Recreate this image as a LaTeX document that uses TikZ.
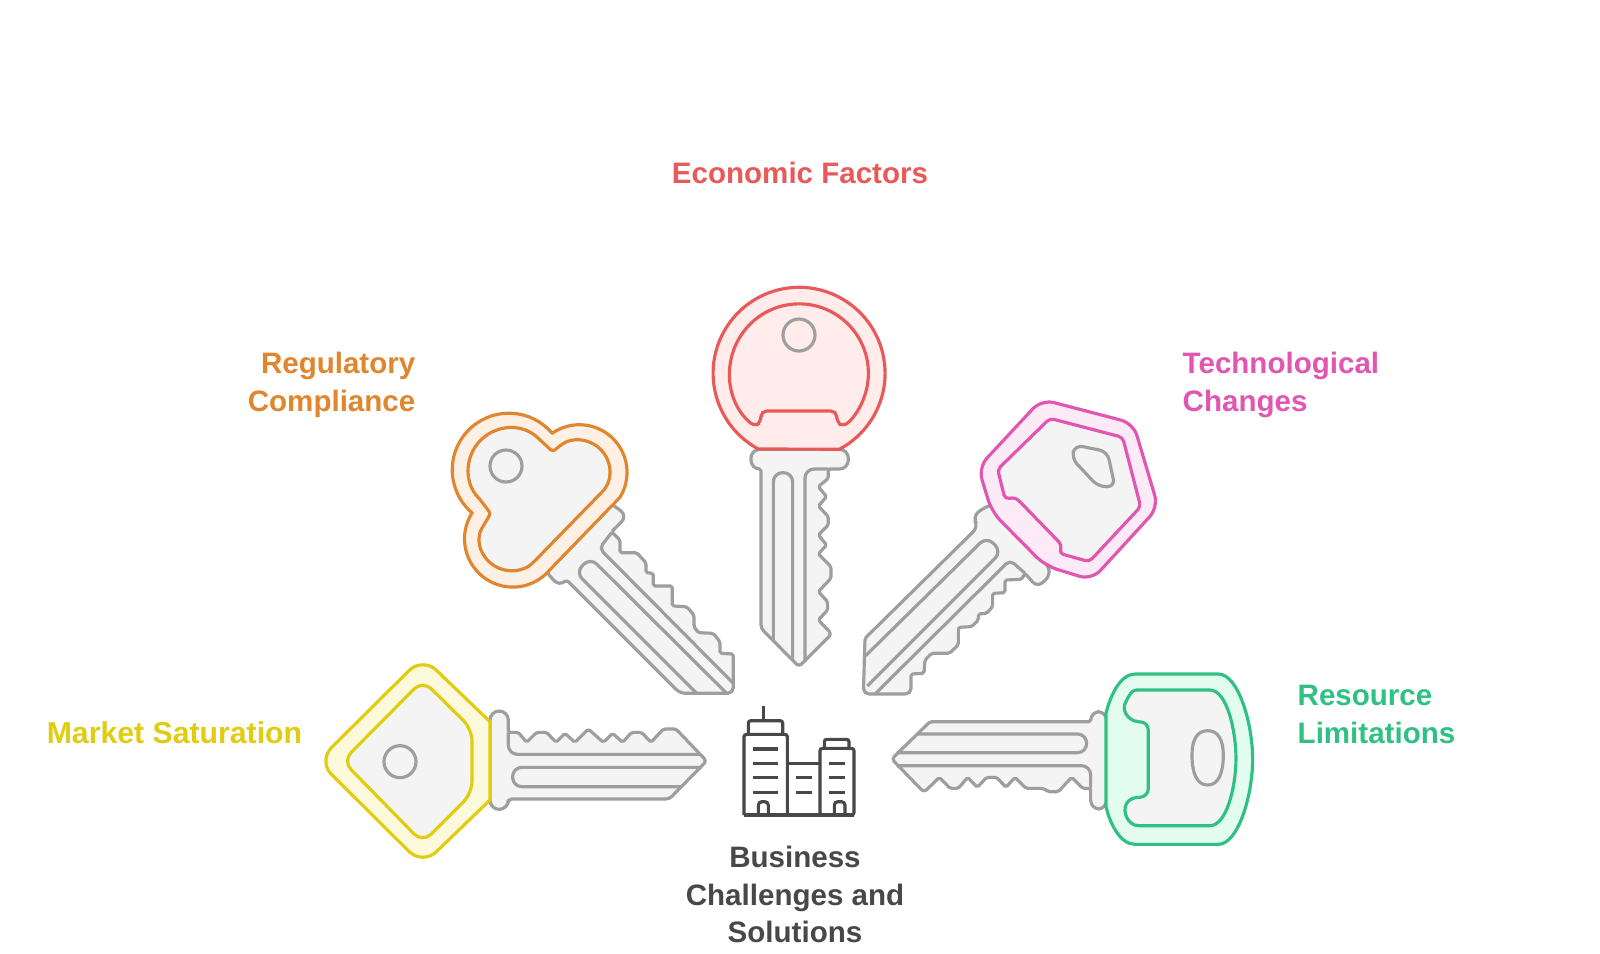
\documentclass[tikz,border=0pt]{standalone}
\usepackage{fontspec}
\setmainfont{Liberation Sans}
\definecolor{keygray}{HTML}{9E9E9E}
\definecolor{keyfill}{HTML}{F4F4F4}
\definecolor{inkdark}{HTML}{484848}
\definecolor{ecoline}{HTML}{E85A5A}
\definecolor{ecofill}{HTML}{FFECEB}
\definecolor{regline}{HTML}{E0862E}
\definecolor{regfill}{HTML}{FEF0E4}
\definecolor{tecline}{HTML}{E056B0}
\definecolor{tecfill}{HTML}{FDEAF7}
\definecolor{mktline}{HTML}{E0CC10}
\definecolor{mktfill}{HTML}{FDF9DC}
\definecolor{resline}{HTML}{2FC184}
\definecolor{resfill}{HTML}{E3FCF0}
\tikzset{
  blade/.style={draw=keygray,fill=keyfill,line width=.9pt,line join=round,rounded corners=.5pt},
  groove/.style={draw=keygray,line width=.9pt,rounded corners=2.6pt},
  hole/.style={draw=keygray,line width=.9pt},
  label/.style={font=\bfseries\fontsize{8.4}{10.7}\selectfont,inner sep=0pt},
  icon/.style={draw=inkdark,line width=.9pt,rounded corners=.7pt},
}
\begin{document}
\begin{tikzpicture}[x=0.01cm,y=-0.01cm]
\useasboundingbox (0,0) rectangle (1600,953);
\fill[white] (0,0) rectangle (1600,953);
\begin{scope}[shift={(690,270)},scale=0.3333]
\path[blade] (300,538) [rounded corners=2.5pt] -- (183,538) -- (183,597) [rounded corners=.5pt] -- (213,597) [rounded corners=1pt] -- (213,1075) -- (327,1190) -- (425,1092) [rounded corners=.5pt] -- (385,1050) -- (413,1020) -- (413,995) -- (385,965) -- (423,925) -- (423,890) -- (385,852) -- (410,825) -- (385,795) -- (415,765) -- (415,740) -- (385,708) -- (410,680) -- (385,650) -- (415,625) -- (415,597) [rounded corners=2.5pt] -- (475,597) -- (475,538) -- cycle;
\draw[groove] (250,1110) -- (250,608) -- (308,608) -- (308,1170);
\draw[groove] (345,1175) -- (345,597) -- (415,597);
\filldraw[draw=ecoline,fill=ecofill,line width=.9pt] (205,537) arc[start angle=118.3,end angle=422,radius=258] -- cycle;
\draw[draw=ecoline,line width=.9pt,rounded corners=1.6pt] (195,470) arc[start angle=129.5,end angle=410.7,radius=208] -- (440,455) -- (440,423) -- (213,423) -- (213,455) -- cycle;
\draw[hole] (327,195) circle[radius=48];
\end{scope}
\begin{scope}[shift={(440,400)},scale=0.3333]
\path[blade] (480,300) [rounded corners=2pt] -- (530,320) -- (560,350) [rounded corners=.5pt] -- (515,395) -- (540,420) -- (540,458) -- (590,458) -- (618,488) -- (618,518) -- (640,520) -- (640,558) -- (697,558) -- (697,618) -- (740,620) -- (762,645) -- (762,680) -- (775,698) -- (820,700) -- (840,725) -- (840,760) -- (880,762) [rounded corners=1.6pt] -- (880,880) -- (720,880) [rounded corners=.5pt] -- (380,540) [rounded corners=2pt] -- (358,558) -- (322,520) -- (300,480) -- cycle;
\draw[groove] (770,880) -- (407,517) -- (451,473) -- (860,880);
\draw[groove,rounded corners=1.5pt] (878,848) -- (478,445) -- (515,398);
\filldraw[draw=regline,fill=regfill,line width=.9pt] (335,98) arc[start angle=-41,end angle=-229.4,radius=170] arc[start angle=212.4,end angle=39.6,radius=145] -- (540,292) arc[start angle=31.6,end angle=-124.4,radius=143] -- cycle;
\filldraw[draw=regline,fill=keyfill,line width=.9pt,rounded corners=.8pt] (338,155) -- (292,112) arc[start angle=-50.8,end angle=-222.5,radius=127] -- (152,340) -- (120,395) arc[start angle=192,end angle=47,radius=97] -- (490,272) arc[start angle=37,end angle=-122,radius=95] -- cycle;
\draw[hole] (198,198) circle[radius=48];
\end{scope}
\begin{scope}[shift={(850,390)},scale=0.3333]
\path[blade] (480,340) -- (440,340) [rounded corners=2pt] -- (402,352) -- (368,380) -- (385,410) [rounded corners=.5pt] -- (45,745) [rounded corners=1.6pt] -- (40,912) -- (183,912) [rounded corners=.5pt] -- (183,852) -- (222,850) -- (225,810) -- (245,790) -- (298,790) -- (325,765) -- (325,712) -- (365,710) -- (385,690) -- (385,672) -- (410,670) -- (428,650) -- (428,610) -- (465,608) -- (465,570) -- (515,568) -- (525,550) [rounded corners=2pt] -- (562,592) -- (603,555) -- (590,520) -- cycle;
\draw[groove] (47,797) -- (410,440) -- (455,485) -- (52,888);
\draw[groove,rounded corners=1.5pt] (75,912) -- (480,510) -- (525,550);
\filldraw[draw=tecline,fill=tecfill,line width=.9pt,rounded corners=3.6pt] (425,365) -- (385,232) -- (575,28) -- (850,100) -- (925,352) -- (725,570) -- (585,527) -- cycle;
\filldraw[draw=tecline,fill=keyfill,line width=.9pt,rounded corners=1.2pt] (600,85) -- (818,142) -- (872,350) -- (718,515) -- (628,490) -- (636,465) -- (497,322) -- (465,327) -- (443,238) -- cycle;
\draw[hole,rounded corners=2.2pt] (675,165) -- (772,185) -- (795,290) -- (745,290) -- (665,205) -- cycle;
\end{scope}
\begin{scope}[shift={(320,655)},scale=0.3333]
\path[blade] (510,300) [rounded corners=2.6pt] -- (510,168) -- (565,168) [rounded corners=.5pt] -- (565,232) -- (595,232) -- (620,262) -- (650,232) -- (680,232) -- (708,262) -- (735,235) -- (765,262) -- (805,222) -- (850,262) -- (878,235) -- (908,262) -- (935,232) -- (965,232) -- (993,262) -- (1030,222) -- (1068,222) [rounded corners=1pt] -- (1160,318) -- (1048,432) -- (565,432) [rounded corners=2.6pt] -- (565,463) -- (510,463) -- cycle;
\draw[groove] (565,232) -- (565,298) -- (1140,298);
\draw[groove] (1145,337) -- (578,337) -- (578,395) -- (1082,395);
\filldraw[draw=mktline,fill=mktfill,line width=.9pt] (510,200) [rounded corners=5.4pt] -- (308,6) -- (-6,318) -- (308,630) [sharp corners] -- (510,435) -- cycle;
\filldraw[draw=mktline,fill=keyfill,line width=.9pt,rounded corners=3.4pt] (308,76) -- (68,318) -- (308,563) -- (456,415) -- (456,222) -- cycle;
\draw[hole] (240,320) circle[radius=48];
\end{scope}
\begin{scope}[shift={(880,660)},scale=0.3333]
\path[blade] (680,155) [rounded corners=2.5pt] -- (632,155) [rounded corners=.5pt] -- (632,185) -- (150,185) [rounded corners=1pt] -- (35,297) -- (132,397) [rounded corners=.5pt] -- (178,352) -- (210,385) -- (235,385) -- (263,352) -- (292,382) -- (320,352) -- (350,352) -- (378,382) -- (405,352) -- (438,385) -- (490,385) -- (505,395) -- (535,395) -- (575,352) -- (608,385) -- (632,385) [rounded corners=2.5pt] -- (632,447) -- (680,447) -- cycle;
\draw[groove] (112,222) -- (620,222) -- (620,278) -- (50,278);
\draw[groove] (52,317) -- (632,317) -- (632,385);
\filldraw[draw=resline,fill=resfill,line width=.9pt] (678,160) .. controls (690,110) and (720,42) .. (765,42) -- (1015,42) .. controls (1075,42) and (1118,190) .. (1118,298) .. controls (1118,405) and (1075,553) .. (1015,553) -- (765,553) .. controls (720,553) and (690,490) .. (678,440) -- cycle;
\filldraw[draw=resline,fill=keyfill,line width=.9pt] (770,90) -- (990,90) .. controls (1040,90) and (1068,210) .. (1068,295) .. controls (1068,380) and (1040,497) .. (990,497) -- (775,497) .. controls (745,497) and (725,455) .. (740,430) .. controls (752,412) and (770,412) .. (780,412) .. controls (795,410) and (805,400) .. (805,385) -- (805,212) .. controls (805,195) and (795,185) .. (775,185) .. controls (745,183) and (722,150) .. (738,125) .. controls (748,105) and (755,90) .. (770,90) -- cycle;
\draw[hole] (983,212) .. controls (1015,212) and (1030,240) .. (1030,285) .. controls (1030,340) and (1015,375) .. (983,375) .. controls (951,375) and (936,340) .. (936,285) .. controls (936,240) and (951,212) .. (983,212) -- cycle;
\end{scope}
\begin{scope}[shift={(730,695)},scale=0.3333]
\draw[icon] (100,32) -- (100,77);
\draw[icon] (55,118) -- (55,77) -- (158,77) -- (158,118);
\draw[icon] (42,360) -- (42,118) -- (172,118) -- (172,360);
\draw[icon] (270,360) -- (270,160) -- (372,160) -- (372,360) -- cycle;
\draw[icon] (283,160) -- (283,133) -- (357,133) -- (357,160);
\draw[icon] (172,205) -- (270,205);
\draw[icon] (42,360) -- (372,360);
\foreach \winy in {162,205,248,292} \draw[icon] (70,\winy) -- (145,\winy);
\foreach \winy in {248,292} \draw[icon] (198,\winy) -- (245,\winy);
\foreach \winy in {205,248,292} \draw[icon] (298,\winy) -- (345,\winy);
\draw[icon,rounded corners=1pt] (85,360) -- (85,320) -- (115,320) -- (115,360);
\draw[icon,rounded corners=1pt] (313,360) -- (313,320) -- (345,320) -- (345,360);
\end{scope}
\node[label,text=ecoline] (economic) at (800,173) {Economic Factors};
\node[label,text=regline,align=right,anchor=east] (regulatory) at (416,385) {Regulatory\\Compliance};
\node[label,text=tecline,align=left,anchor=west] (technological) at (1182,385) {Technological\\Changes};
\node[label,text=mktline,font=\bfseries\fontsize{8.6}{10.7}\selectfont] (market) at (174.5,733) {Market Saturation};
\node[label,text=resline,align=left,anchor=west] (resource) at (1297,714.5) {Resource\\Limitations};
\node[label,text=inkdark,align=center] (business) at (795,894.5) {Business\\Challenges and\\Solutions};
\end{tikzpicture}
\end{document}
